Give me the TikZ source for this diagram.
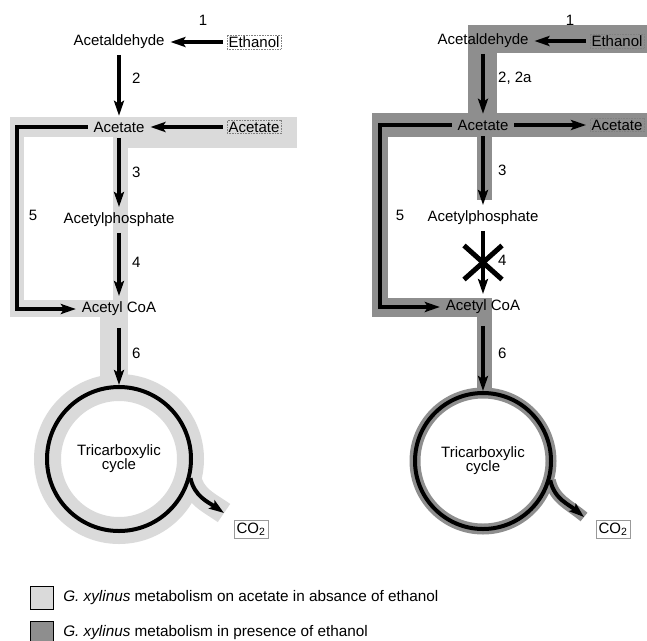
\documentclass[tikz,border=0pt]{standalone}
\usepackage{fontspec}
\setmainfont{Liberation Sans}
\usetikzlibrary{arrows.meta,positioning,backgrounds}
\definecolor{lightband}{RGB}{218,218,218}
\definecolor{darkband}{RGB}{142,142,142}

\begin{document}
\begin{tikzpicture}[
  x=1pt, y=1pt,
  met/.style={font=\fontsize{15}{18}\selectfont, inner sep=2pt, outer sep=4pt},
  ext/.style={met, draw=gray, densely dotted, line width=0.6pt, inner sep=1.5pt},
  gas/.style={met, draw=gray!80, line width=0.6pt, inner sep=2.5pt},
  num/.style={font=\fontsize{15}{18}\selectfont, inner sep=0pt},
  tca/.style={circle, draw, line width=4pt, align=center, inner sep=0pt,
              font=\fontsize{15}{14}\selectfont},
  flow/.style={-{Stealth[length=15pt,width=10pt,inset=3pt]}, line width=4pt, line join=miter},
  block/.style={line width=5pt},
  legbox/.style={draw, line width=1.2pt, minimum size=23pt, inner sep=0pt},
  legtxt/.style={font=\fontsize{15.3}{18}\selectfont, inner sep=0pt},
]
\useasboundingbox (0,0) rectangle (647,-640);

% left panel: growth on acetate
\node[met] (lacald) at (119,-42) {Acetaldehyde};
\node[ext] (letoh) at (254,-42) {Ethanol};
\node[met] (lacet) at (119,-127) {Acetate};
\node[ext] (lxacet) at (254,-127) {Acetate};
\node[met] (lphos) at (119,-220) {Acetylphosphate};
\node[met] (lcoa) at (119,-309) {Acetyl CoA};
\node[tca, minimum size=144pt] (ltca) at (119,-459) {Tricarboxylic\\cycle};
\node[gas] (lco2) at (251,-529) {CO\textsubscript{2}};
\coordinate (lcorner) at (17,-127);
\coordinate (lout) at (224,-513);

\node[num] (ln1) at (203,-20) {1};
\node[num, anchor=west] (ln2) at (132,-78) {2};
\node[num, anchor=west] (ln3) at (132,-172) {3};
\node[num, anchor=west] (ln4) at (132,-262) {4};
\node[num] (ln5) at (33,-215) {5};
\node[num, anchor=west] (ln6) at (132,-353) {6};

\draw[flow] (letoh) -- (lacald);
\draw[flow] (lacald) -- (lacet);
\draw[flow] (lxacet) -- (lacet);
\draw[flow] (lacet) -- (lphos);
\draw[flow] (lphos) -- (lcoa);
\draw[flow] (lacet) -- (lcorner) |- (lcoa);
\draw[flow, shorten <=6pt] (lcoa) -- (ltca.north);
\draw[flow] (ltca.-15) to[out=-78, in=145] (lout);

% right panel: with ethanol
\node[met] (racald) at (483,-41) {Acetaldehyde};
\node[ext] (retoh) at (617,-41) {Ethanol};
\node[met] (racet) at (483,-125) {Acetate};
\node[ext] (rxacet) at (617,-125) {Acetate};
\node[met] (rphos) at (483,-218) {Acetylphosphate};
\node[met] (rcoa) at (483,-307) {Acetyl CoA};
\node[tca, minimum size=136pt] (rtca) at (483,-461) {Tricarboxylic\\cycle};
\node[gas] (rco2) at (613,-529) {CO\textsubscript{2}};
\coordinate (rcorner) at (380,-125);
\coordinate (rout) at (584,-517);

\node[num] (rn1) at (570,-20) {1};
\node[num, anchor=west] (rn2) at (498,-78) {2, 2a};
\node[num, anchor=west] (rn3) at (498,-170) {3};
\node[num, anchor=west] (rn4) at (498,-260) {4};
\node[num] (rn5) at (400,-215) {5};
\node[num, anchor=west] (rn6) at (498,-353) {6};

\draw[flow] (retoh) -- (racald);
\draw[flow] (racald) -- (racet);
\draw[flow] (racet) -- (rxacet);
\draw[flow] (racet) -- (rphos);
\draw[flow] (rphos) -- coordinate[pos=0.5] (rblk) (rcoa);
\draw[flow] (racet) -- (rcorner) |- (rcoa);
\draw[flow, shorten <=6pt] (rcoa) -- (rtca.north);
\draw[flow] (rtca.-16) to[out=-78, in=140] (rout);

% blocked step 4
\draw[block] ([shift={(-19,17)}]rblk) -- ([shift={(19,-17)}]rblk);
\draw[block] ([shift={(-19,-17)}]rblk) -- ([shift={(19,17)}]rblk);

% shaded pathways
\begin{scope}[on background layer]
  \fill[lightband] (10,-117) rectangle (297,-137);
  \fill[lightband] (113,-117) rectangle (297,-148);
  \fill[lightband] (10,-117) rectangle (24,-317);
  \fill[lightband] (10,-300) rectangle (128,-317);
  \fill[lightband] (113,-137) rectangle (128,-300);
  \fill[lightband] (100,-310) rectangle (128,-392);
  \draw[lightband, line width=27pt] (ltca.center) circle[radius=71.5];
  \draw[lightband, line width=22pt] (ltca.-15) to[out=-78, in=145] (lout);

  \fill[darkband] (468,-25) rectangle (647,-53);
  \fill[darkband] (468,-25) rectangle (497,-113);
  \fill[darkband] (372,-113) rectangle (647,-137);
  \fill[darkband] (372,-113) rectangle (388,-317);
  \fill[darkband] (372,-298) rectangle (492,-317);
  \fill[darkband] (477,-137) rectangle (492,-200);
  \fill[darkband] (477,-298) rectangle (492,-390);
  \draw[darkband, line width=11pt] (rtca.center) circle[radius=68];
  \draw[darkband, line width=11pt] (rtca.-16) to[out=-78, in=140] (rout);
\end{scope}

% legend
\node[legbox, fill=lightband] (kl) at (42,-598) {};
\node[legtxt, right=9pt of kl] (kltxt) {\textit{G. xylinus} metabolism on acetate in absance of ethanol};
\node[legbox, fill=darkband] (kd) at (42,-633) {};
\node[legtxt, right=9pt of kd] (kdtxt) {\textit{G. xylinus} metabolism in presence of ethanol};
\end{tikzpicture}
\end{document}
